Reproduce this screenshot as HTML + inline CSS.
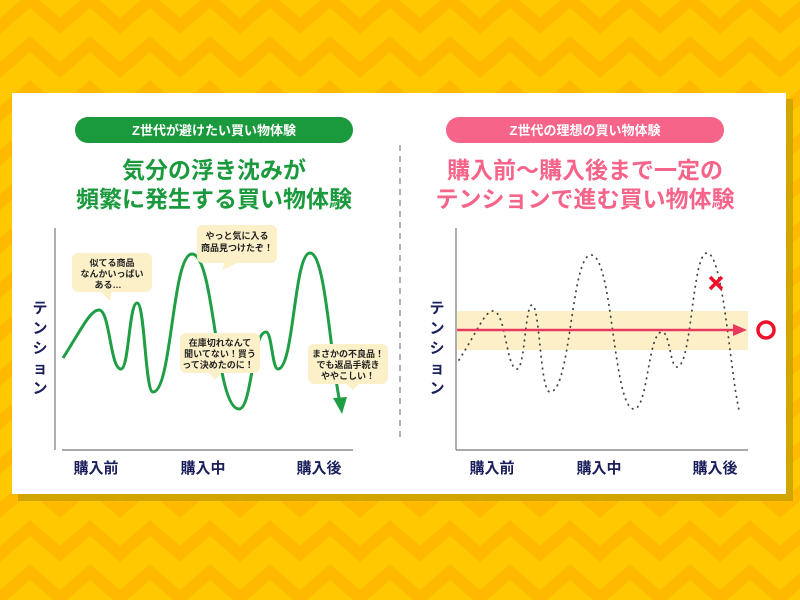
<!DOCTYPE html>
<html><head><meta charset="utf-8"><style>
html,body{margin:0;padding:0;width:800px;height:600px;overflow:hidden;}
body{font-family:"Liberation Sans","Noto Sans CJK JP",sans-serif;}
</style></head><body>
<svg width="800" height="600" viewBox="0 0 800 600" xmlns="http://www.w3.org/2000/svg" font-family="Liberation Sans, Noto Sans CJK JP, sans-serif">
<defs>
<pattern id="chev" width="60" height="44" patternUnits="userSpaceOnUse">
<rect width="60" height="44" fill="#ffc800"/>
<path d="M-30,0 L0,26 L30,0 L60,26 L90,0" fill="none" stroke="#ffba00" stroke-width="12"/>
<path d="M-30,44 L0,70 L30,44 L60,70 L90,44" fill="none" stroke="#ffba00" stroke-width="12"/>
<path d="M-30,-44 L0,-18 L30,-44 L60,-18 L90,-44" fill="none" stroke="#ffba00" stroke-width="12"/>
</pattern>
</defs>
<rect width="800" height="600" fill="url(#chev)"/>
<rect x="18" y="99" width="775" height="402" fill="#c9a000" opacity="0.85"/>
<rect x="12" y="93" width="774" height="401" fill="#fff"/>

<rect x="75" y="117" width="278" height="26" rx="13" fill="#1a9a3c"/>
<text x="214" y="135" text-anchor="middle" font-size="13" font-weight="bold" fill="#fff">Z世代が避けたい買い物体験</text>
<rect x="446" y="117" width="278" height="26" rx="13" fill="#f6648a"/>
<text x="585" y="135" text-anchor="middle" font-size="13" font-weight="bold" fill="#fff">Z世代の理想の買い物体験</text>
<text x="214" y="178" text-anchor="middle" font-size="23" font-weight="bold" fill="#1a9a3c">気分の浮き沈みが</text>
<text x="214" y="207" text-anchor="middle" font-size="23" font-weight="bold" fill="#1a9a3c">頻繁に発生する買い物体験</text>
<text x="585" y="178" text-anchor="middle" font-size="23" font-weight="bold" fill="#f6648a">購入前～購入後まで一定の</text>
<text x="585" y="207" text-anchor="middle" font-size="23" font-weight="bold" fill="#f6648a">テンションで進む買い物体験</text>

<line x1="400" y1="145" x2="400" y2="442" stroke="#999" stroke-width="1.5" stroke-dasharray="6 5"/>

<line x1="55" y1="228" x2="55" y2="450" stroke="#777" stroke-width="1.2"/>
<line x1="62" y1="450" x2="353" y2="450" stroke="#777" stroke-width="1.2"/>
<g font-size="15" font-weight="bold" fill="#1a1f5c">
<text x="96" y="473" text-anchor="middle">購入前</text>
<text x="203" y="473" text-anchor="middle">購入中</text>
<text x="319" y="473" text-anchor="middle">購入後</text>
<text x="492" y="473" text-anchor="middle">購入前</text>
<text x="599" y="473" text-anchor="middle">購入中</text>
<text x="715" y="473" text-anchor="middle">購入後</text>
</g>
<g font-size="15" font-weight="bold" fill="#1a1f5c" text-anchor="middle">
<text x="40" y="313">テ</text><text x="40" y="333">ン</text><text x="40" y="353">シ</text><text x="40" y="373">ョ</text><text x="40" y="393">ン</text>
<text x="437" y="313">テ</text><text x="437" y="333">ン</text><text x="437" y="353">シ</text><text x="437" y="373">ョ</text><text x="437" y="393">ン</text>
</g>

<path d="M63,358 C81,330 90,310 99,310 C110,310 110,369 121,369 C129,369 129,303 137,303 C145,303 145,392 153,392 C172,392 172,254 192,254 C215,254 215,409 239,409 C252,409 252,332 266,332 C272,332 272,369 278,369 C294,369 294,253 310,253 C325,253 330,350 339,398" fill="none" stroke="#1f9e45" stroke-width="3"/>
<polygon points="333,398 347,397 342,414" fill="#1f9e45"/>

<g fill="#fcf0c9">
<rect x="72" y="253" width="80" height="39" rx="6"/><polygon points="100,291 112,291 110,301"/>
<rect x="197" y="225" width="80" height="38" rx="6"/><polygon points="225,262 240,262 222,270"/>
<rect x="180" y="333" width="80" height="40" rx="6"/><polygon points="208,372 222,372 215,380"/>
<rect x="308" y="344" width="80" height="40" rx="6"/><polygon points="345,383 360,383 353,390"/>
</g>
<g font-size="9" font-weight="bold" fill="#222" text-anchor="middle">
<text x="112" y="266">似てる商品</text><text x="112" y="277">なんかいっぱい</text><text x="108" y="288">ある…</text>
<text x="237" y="239">やっと気に入る</text><text x="237" y="251">商品見つけたぞ！</text>
<text x="220" y="346">在庫切れなんて</text><text x="220" y="357">聞いてない！買う</text><text x="218" y="368">って決めたのに！</text>
<text x="348" y="357">まさかの不良品！</text><text x="348" y="368">でも返品手続き</text><text x="348" y="379">ややこしい！</text>
</g>

<line x1="456" y1="228" x2="456" y2="450" stroke="#777" stroke-width="1.2"/>
<line x1="456" y1="450" x2="748" y2="450" stroke="#777" stroke-width="1.2"/>
<rect x="457" y="311" width="291" height="39" fill="#fdefc8"/>
<path d="M459,360 C478,330 485,311 493,311 C506,311 506,369 517,369 C525,369 525,305 532,305 C540,305 540,392 550,392 C571,392 571,255 591,255 C613,255 613,409 634,409 C648,409 648,332 662,332 C670,332 670,367 677,367 C692,367 692,253 707,253 C723,253 730,370 739,410" fill="none" stroke="#444" stroke-width="1.8" stroke-dasharray="0.5 5.5" stroke-linecap="round"/>
<line x1="457" y1="330" x2="735" y2="330" stroke="#e83a5e" stroke-width="2.5"/>
<polygon points="733,324 747,330 733,336" fill="#e83a5e"/>
<circle cx="766" cy="330" r="8" fill="none" stroke="#f0102a" stroke-width="3.5"/>
<path d="M710,277 L722,289 M722,277 L710,289" stroke="#f0102a" stroke-width="3.5"/>
</svg>
</body></html>
